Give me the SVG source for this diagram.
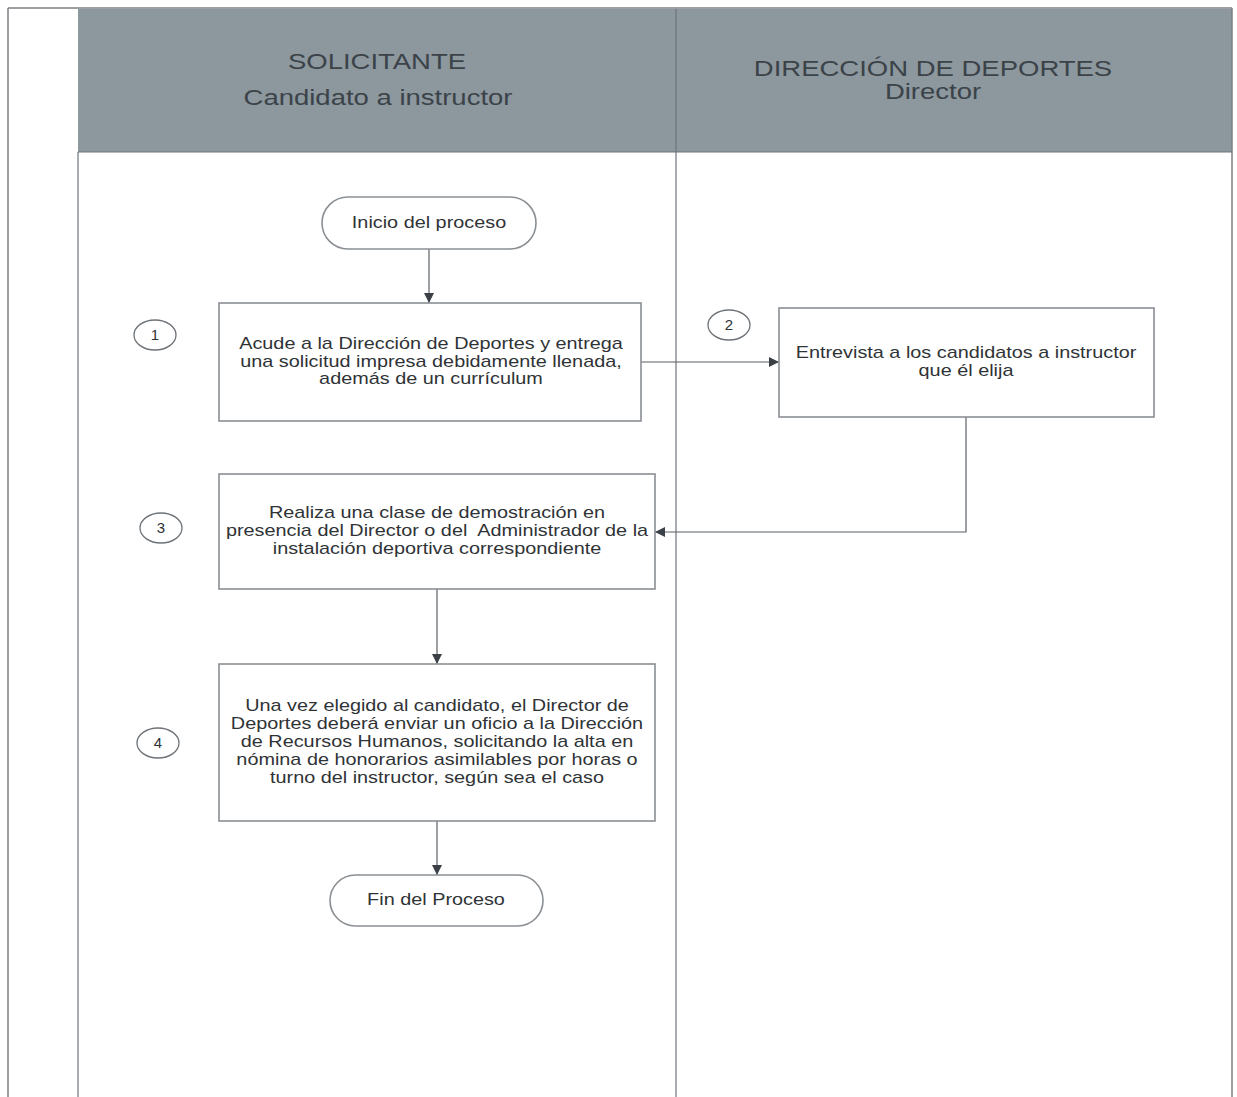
<svg xmlns="http://www.w3.org/2000/svg" width="1237" height="1097" viewBox="0 0 1237 1097">
<defs>
<marker id="arr" viewBox="0 0 10 10" refX="10" refY="5" markerWidth="10" markerHeight="10" markerUnits="userSpaceOnUse" orient="auto">
<path d="M0,0 L10,5 L0,10 z" fill="#3a4046"/>
</marker>
</defs>
<style>
.frame{fill:none;stroke:#7a7f84;stroke-width:1.5}
.lane{fill:none;stroke:#6e747a;stroke-width:1.2}
.hdr{fill:#8c979e}
.ht{font-family:"Liberation Sans",Arial,sans-serif;font-size:22px;fill:#3b4349;text-anchor:middle}
.box{fill:#ffffff;stroke:#8a8f94;stroke-width:1.6}
.t{font-family:"Liberation Sans",Arial,sans-serif;font-size:16px;fill:#2f3336;text-anchor:middle}
.num{fill:#ffffff;stroke:#6e7378;stroke-width:1.3}
.nt{font-family:"Liberation Sans",Arial,sans-serif;font-size:15px;fill:#2f3336;text-anchor:middle}
.c{fill:none;stroke:#5a6066;stroke-width:1.2}
</style>
<rect x="0" y="0" width="1237" height="1097" fill="#ffffff"/>
<g id="frame">
<rect class="hdr" x="78" y="9" width="1154" height="143"/>
<line class="frame" x1="8" y1="8" x2="1232" y2="8"/>
<line class="frame" x1="8" y1="8" x2="8" y2="1097"/>
<line class="frame" x1="1232" y1="8" x2="1232" y2="1097"/>
<line class="lane" x1="78" y1="152" x2="78" y2="1097"/>
<line class="lane" x1="676" y1="9" x2="676" y2="1097"/>
<line class="lane" x1="78" y1="152" x2="1232" y2="152"/>
</g>
<g id="lane-solicitante">
<text class="ht" transform="translate(377 0) scale(1.25 1)" x="0" y="69">SOLICITANTE</text>
<text class="ht" transform="translate(378 0) scale(1.25 1)" x="0" y="105">Candidato a instructor</text>
</g>
<g id="lane-direccion">
<text class="ht" transform="translate(933 0) scale(1.25 1)" x="0" y="76">DIRECCIÓN DE DEPORTES</text>
<text class="ht" transform="translate(933 0) scale(1.25 1)" x="0" y="99">Director</text>
</g>
<g id="connectors">
<line class="c" x1="429" y1="249" x2="429" y2="303" marker-end="url(#arr)"/>
<line class="c" x1="641" y1="362" x2="779" y2="362" marker-end="url(#arr)"/>
<polyline class="c" points="966,417 966,532 655,532" marker-end="url(#arr)"/>
<line class="c" x1="437" y1="589" x2="437" y2="664" marker-end="url(#arr)"/>
<line class="c" x1="437" y1="821" x2="437" y2="875" marker-end="url(#arr)"/>
</g>
<g id="inicio">
<rect class="box" x="322" y="197" width="214" height="52" rx="26" ry="26"/>
<text class="t" transform="translate(429 0) scale(1.24 1)" x="0" y="228">Inicio del proceso</text>
</g>
<g id="paso1">
<rect class="box" x="219" y="303" width="422" height="118"/>
<text class="t" transform="translate(431 0) scale(1.24 1)" x="0" y="349">Acude a la Dirección de Deportes y entrega</text>
<text class="t" transform="translate(431 0) scale(1.24 1)" x="0" y="367">una solicitud impresa debidamente llenada,</text>
<text class="t" transform="translate(431 0) scale(1.24 1)" x="0" y="384">además de un currículum</text>
</g>
<g id="num1">
<ellipse class="num" cx="155" cy="335" rx="21" ry="15"/>
<text class="nt" x="155" y="340">1</text>
</g>
<g id="paso2">
<rect class="box" x="779" y="308" width="375" height="109"/>
<text class="t" transform="translate(966 0) scale(1.24 1)" x="0" y="358">Entrevista a los candidatos a instructor</text>
<text class="t" transform="translate(966 0) scale(1.24 1)" x="0" y="376">que él elija</text>
</g>
<g id="num2">
<ellipse class="num" cx="729" cy="325" rx="21" ry="15"/>
<text class="nt" x="729" y="330">2</text>
</g>
<g id="paso3">
<rect class="box" x="219" y="474" width="436" height="115"/>
<text class="t" transform="translate(437 0) scale(1.24 1)" x="0" y="518">Realiza una clase de demostración en</text>
<text class="t" transform="translate(437 0) scale(1.24 1)" x="0" y="536" xml:space="preserve">presencia del Director o del  Administrador de la</text>
<text class="t" transform="translate(437 0) scale(1.24 1)" x="0" y="554">instalación deportiva correspondiente</text>
</g>
<g id="num3">
<ellipse class="num" cx="161" cy="528" rx="21" ry="15"/>
<text class="nt" x="161" y="533">3</text>
</g>
<g id="paso4">
<rect class="box" x="219" y="664" width="436" height="157"/>
<text class="t" transform="translate(437 0) scale(1.24 1)" x="0" y="711">Una vez elegido al candidato, el Director de</text>
<text class="t" transform="translate(437 0) scale(1.24 1)" x="0" y="729">Deportes deberá enviar un oficio a la Dirección</text>
<text class="t" transform="translate(437 0) scale(1.24 1)" x="0" y="747">de Recursos Humanos, solicitando la alta en</text>
<text class="t" transform="translate(437 0) scale(1.24 1)" x="0" y="765">nómina de honorarios asimilables por horas o</text>
<text class="t" transform="translate(437 0) scale(1.24 1)" x="0" y="783">turno del instructor, según sea el caso</text>
</g>
<g id="num4">
<ellipse class="num" cx="158" cy="743" rx="21" ry="15"/>
<text class="nt" x="158" y="748">4</text>
</g>
<g id="fin">
<rect class="box" x="330" y="875" width="213" height="51" rx="25.5" ry="25.5"/>
<text class="t" transform="translate(436 0) scale(1.24 1)" x="0" y="905">Fin del Proceso</text>
</g>
</svg>
